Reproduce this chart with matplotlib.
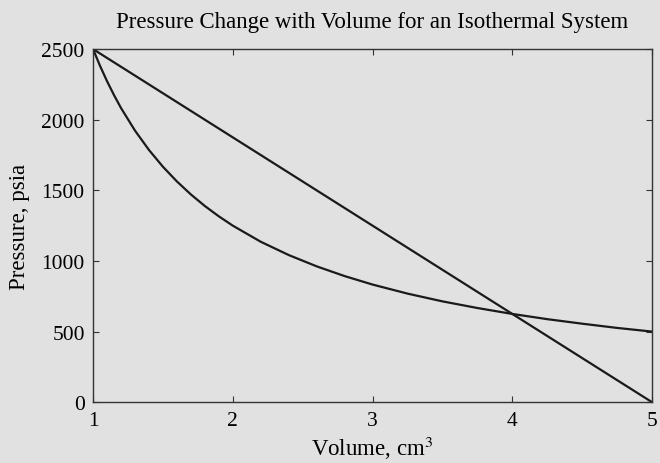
import matplotlib
matplotlib.use("Agg")
import matplotlib.pyplot as plt

# values
volume = [1.0, 1.05, 1.1, 1.15, 1.2, 1.3, 1.4, 1.5, 1.6, 1.7, 1.8, 1.9, 2.0,
          2.2, 2.4, 2.6, 2.8, 3.0, 3.25, 3.5, 3.75, 4.0, 4.25, 4.5, 4.75, 5.0]
pressure_isothermal = [2500, 2381, 2273, 2174, 2083, 1923, 1786, 1667, 1563,
                       1471, 1389, 1316, 1250, 1136, 1042, 962, 893, 833,
                       769, 714, 667, 625, 588, 556, 526, 500]
volume_linear = [1, 5]
pressure_linear = [2500, 0]

x_ticks = [1, 2, 3, 4, 5]
y_ticks = [0, 500, 1000, 1500, 2000, 2500]

bg = "#e1e1e1"
plt.rcParams["font.family"] = "Liberation Serif"
plt.rcParams["mathtext.fontset"] = "stix"

fig = plt.figure(figsize=(6.6, 4.64), dpi=100, facecolor=bg)
ax = fig.add_axes([0.141, 0.131, 0.847, 0.761], facecolor=bg)

ax.plot(volume, pressure_isothermal, color="#1a1a1a", lw=1.6)
ax.plot(volume_linear, pressure_linear, color="#1a1a1a", lw=1.6)

ax.set_xlim(1, 5)
ax.set_ylim(0, 2500)
ax.set_xticks(x_ticks)
ax.set_yticks(y_ticks)
ax.tick_params(direction="in", top=True, right=True, labelsize=15.5,
               length=4, width=0.8, color="#333333")
ax.tick_params(axis="x", pad=6)
ax.tick_params(axis="y", pad=6)
for s in ax.spines.values():
    s.set_color("#333333")
    s.set_linewidth(1.0)

ax.set_title("Pressure Change with Volume for an Isothermal System",
             fontsize=16.5, pad=16)
ax.set_xlabel("Volume, cm$^3$", fontsize=16.5, labelpad=3)
ax.set_ylabel("Pressure, psia", fontsize=16.5, labelpad=8)

fig.savefig("out.png", dpi=100, facecolor=bg)
